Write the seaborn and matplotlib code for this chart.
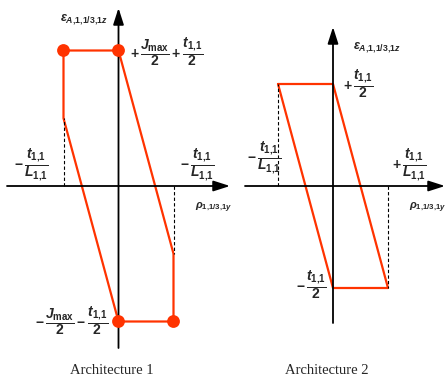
import matplotlib
matplotlib.use("Agg")
import matplotlib.pyplot as plt
import seaborn as sns
import pandas as pd

# ---- data (schematic units: x in t/L, y normalised to the plateau) ----
arch1_x = [-1, 0, 1, 1, 0, -1, -1]
arch1_y = [1, 1, -0.5, -1, -1, 0.5, 1]
arch1_dots_x = [-1, 0, 1, 0]
arch1_dots_y = [1, 1, -1, -1]
arch1_guides_x = [-1, 1]
arch1_guides_y = [0.5, -0.5]

arch2_x = [-1, 0, 1, 0, -1]
arch2_y = [1, 1, -1, -1, 1]
arch2_guides_x = [-1, 1]
arch2_guides_y = [1, -1]

captions = ["Architecture 1", "Architecture 2"]

RED = "#FF3300"
W, H = 446, 380

sns.set_theme(style="white")
plt.rcParams["font.family"] = ["Liberation Sans", "DejaVu Sans"]
plt.rcParams["mathtext.fontset"] = "custom"
plt.rcParams["mathtext.rm"] = "Liberation Sans:bold"
plt.rcParams["mathtext.bf"] = "Liberation Sans:bold"
plt.rcParams["mathtext.it"] = "Liberation Sans:italic:bold"
plt.rcParams["mathtext.sf"] = "Liberation Sans:bold"

fig = plt.figure(figsize=(W / 100, H / 100), dpi=100)


def px_axes(x0, y0, x1, y1):
    return fig.add_axes([x0 / W, 1 - y1 / H, (x1 - x0) / W, (y1 - y0) / H])


def setup(ax, xlim, ylim):
    ax.set_xlim(*xlim)
    ax.set_ylim(*ylim)
    ax.set_axis_off()
    ap = dict(arrowstyle="-|>,head_length=1.0,head_width=0.32", color="black",
              lw=1.3, mutation_scale=10, shrinkA=0, shrinkB=0)
    ax.annotate("", xy=(1, 0), xytext=(0, 0), xycoords=ax.get_yaxis_transform(),
                textcoords=ax.get_yaxis_transform(), arrowprops=ap)
    ax.annotate("", xy=(0, 1), xytext=(0, 0), xycoords=ax.get_xaxis_transform(),
                textcoords=ax.get_xaxis_transform(), arrowprops=ap)


# left panel: origin px (118.5,186), 55 px per x unit, 135.5 px per y unit
ax1 = px_axes(7, 8, 230, 348)
setup(ax1, ((7 - 118.5) / 55, (230 - 118.5) / 55), (-(348 - 186) / 135.5, (186 - 8) / 135.5))
df1 = pd.DataFrame({"x": arch1_x, "y": arch1_y})
sns.lineplot(data=df1, x="x", y="y", sort=False, estimator=None, color=RED, lw=1.6, ax=ax1,
             legend=False)
for gx, gy in zip(arch1_guides_x, arch1_guides_y):
    ax1.plot([gx, gx], [0, gy], color="black", lw=0.8, ls=(0, (3, 2)))
sns.scatterplot(x=arch1_dots_x, y=arch1_dots_y, color=RED, s=85, edgecolor="none", ax=ax1,
                zorder=5, legend=False)

# right panel: origin px (333,186), 55 px per x unit, 102 px per y unit
ax2 = px_axes(245, 27, 445, 323)
setup(ax2, ((245 - 333) / 55, (445 - 333) / 55), (-(323 - 186) / 102, (186 - 27) / 102))
df2 = pd.DataFrame({"x": arch2_x, "y": arch2_y})
sns.lineplot(data=df2, x="x", y="y", sort=False, estimator=None, color=RED, lw=1.6, ax=ax2,
             legend=False)
for gx, gy in zip(arch2_guides_x, arch2_guides_y):
    ax2.plot([gx, gx], [0, gy], color="black", lw=0.8, ls=(0, (3, 2)))


def lab(x, y, s, ha="left", size=10, **kw):
    fig.text(x / W, 1 - y / H, s, ha=ha, va="center", fontsize=size, **kw)


tL_neg = r"$-\,\dfrac{t_{1{,}1}}{L_{1{,}1}}$"
tL_pos = r"$+\,\dfrac{t_{1{,}1}}{L_{1{,}1}}$"
eps = r"$\varepsilon_{A{,}1{,}1/3{,}1z}$"
rho = r"$\rho_{1{,}1/3{,}1y}$"

# left labels
lab(108, 20, eps, ha="right", size=9)
lab(130, 52, r"$+\,\dfrac{J_{\mathrm{max}}}{2}+\dfrac{t_{1{,}1}}{2}$")
lab(14, 165, tL_neg)
lab(180, 165, tL_neg)
lab(195, 208, rho, size=8)
lab(108, 321, r"$-\,\dfrac{J_{\mathrm{max}}}{2}-\dfrac{t_{1{,}1}}{2}$", ha="right")

# right labels
lab(353, 48, eps, size=9)
lab(343, 84, r"$+\,\dfrac{t_{1{,}1}}{2}$")
lab(247, 158, tL_neg)
lab(392, 165, tL_pos)
lab(409, 208, rho, size=8)
lab(327, 285, r"$-\,\dfrac{t_{1{,}1}}{2}$", ha="right")

fig.text(112 / W, 1 - 370 / H, captions[0], ha="center", va="center", fontsize=10.5,
         family=["Liberation Serif"])
fig.text(327 / W, 1 - 370 / H, captions[1], ha="center", va="center", fontsize=10.5,
         family=["Liberation Serif"])

fig.savefig("out.png", dpi=100)
